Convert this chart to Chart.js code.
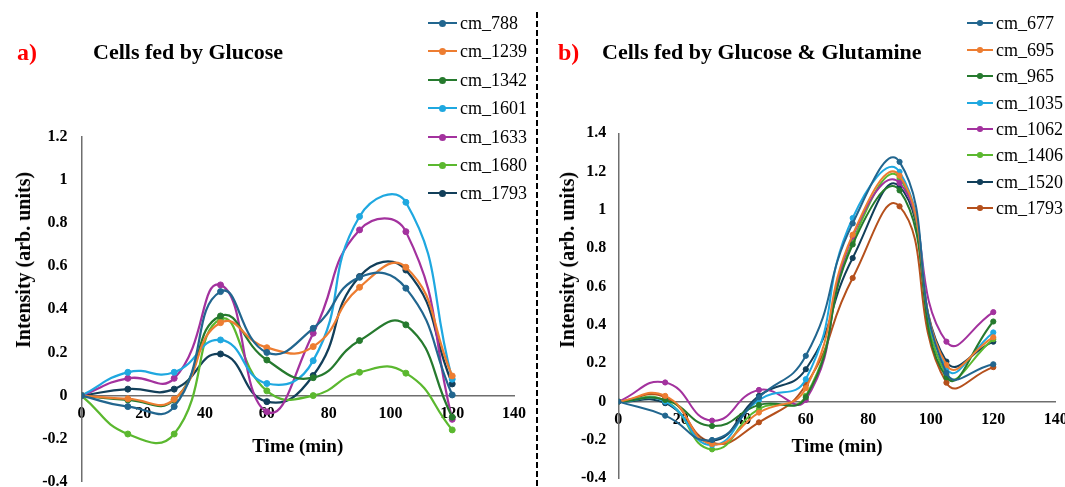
<!DOCTYPE html>
<html>
<head>
<meta charset="utf-8">
<script src="https://cdn.jsdelivr.net/npm/chart.js@4.4.0/dist/chart.umd.min.js"></script>
<style>
  html, body { margin: 0; padding: 0; background: #fff; }
  body { position: relative; width: 1065px; height: 487px; overflow: hidden;
         font-family: "Liberation Serif", "Times New Roman", serif; color: #000; }
  canvas { position: absolute; top: 0; }
  #chartA { left: 0; }
  #chartB { left: 540px; }
  .tag { position: absolute; color: #ff0000; font-weight: bold; font-size: 24px; line-height: 1; }
  .head { position: absolute; font-weight: bold; font-size: 22px; line-height: 1; white-space: nowrap; }
  .ytitle { position: absolute; font-weight: bold; font-size: 20px; line-height: 1; white-space: nowrap;
            transform: translate(-50%, -50%) rotate(-90deg); }
  .lg-row { position: absolute; height: 20px; display: flex; align-items: center; white-space: nowrap;
            font-size: 18px; line-height: 1; }
  .lg-swatch { position: relative; height: 20px; display: inline-block; margin-right: 3px; }
  .lg-swatch i { position: absolute; left: 0; right: 0; top: 9px; }
  .lg-swatch b { position: absolute; top: 10px; left: 50%; border-radius: 50%; }
  #sep { position: absolute; left: 535.5px; top: 12px; width: 2px; height: 480px;
         background: repeating-linear-gradient(to bottom, #000 0 6px, transparent 6px 9px); }
</style>
</head>
<body>
<canvas id="chartA" width="535" height="510"></canvas>
<canvas id="chartB" width="550" height="510"></canvas>
<div id="sep"></div>

<div class="tag" style="left:17px; top:40px;">a)</div>
<div class="head" style="left:93px; top:41px;">Cells fed by Glucose</div>
<div class="tag" style="left:558px; top:40px;">b)</div>
<div class="head" style="left:602px; top:41px;">Cells fed by Glucose &amp; Glutamine</div>
<div class="ytitle" style="left:23px; top:260px;">Intensity (arb. units)</div>
<div class="ytitle" style="left:567px; top:260px;">Intensity (arb. units)</div>
<div id="legendA"></div>
<div id="legendB"></div>

<script>
// Время отбора проб, мин
const timeMin = [0, 15, 30, 45, 60, 75, 90, 105, 120];
const xTickValues = [0, 20, 40, 60, 80, 100, 120, 140];
const yTicksA = [-0.4, -0.2, 0, 0.2, 0.4, 0.6, 0.8, 1, 1.2];
const yTicksB = [-0.4, -0.2, 0, 0.2, 0.4, 0.6, 0.8, 1, 1.2, 1.4];

// a) Cells fed by Glucose
const namesA = ['cm_788', 'cm_1239', 'cm_1342', 'cm_1601', 'cm_1633', 'cm_1680', 'cm_1793'];
const colorsA = ['#22668f', '#ed7d31', '#267a2e', '#1fa8e0', '#a3329e', '#5bb82f', '#123f5a'];
const glc_788  = [0, -0.051, -0.051, 0.482, 0.200, 0.312, 0.548, 0.498, 0.003];
const glc_1239 = [0, -0.015, -0.017, 0.338, 0.222, 0.227, 0.502, 0.595, 0.091];
const glc_1342 = [0, -0.020, -0.020, 0.369, 0.165, 0.083, 0.255, 0.328, -0.100];
const glc_1601 = [0, 0.108, 0.108, 0.258, 0.056, 0.162, 0.830, 0.896, 0.076];
const glc_1633 = [0, 0.080, 0.080, 0.513, -0.075, 0.289, 0.768, 0.760, -0.110];
const glc_1680 = [0, -0.178, -0.178, 0.354, 0.022, 0.000, 0.108, 0.104, -0.159];
const glc_1793 = [0, 0.030, 0.030, 0.193, -0.028, 0.093, 0.552, 0.582, 0.054];
const seriesA = [glc_788, glc_1239, glc_1342, glc_1601, glc_1633, glc_1680, glc_1793];

// b) Cells fed by Glucose & Glutamine
const namesB = ['cm_677', 'cm_695', 'cm_965', 'cm_1035', 'cm_1062', 'cm_1406', 'cm_1520', 'cm_1793'];
const colorsB = ['#22668f', '#ed7d31', '#267a2e', '#1fa8e0', '#a3329e', '#5bb82f', '#123f5a', '#b5501c'];
const gln_677  = [0, -0.073, -0.200, 0.023, 0.239, 0.930, 1.251, 0.150, 0.195];
const gln_695  = [0, 0.030, -0.221, -0.057, 0.070, 0.871, 1.179, 0.192, 0.336];
const gln_965  = [0, 0.009, -0.127, -0.017, 0.023, 0.820, 1.102, 0.127, 0.418];
const gln_1035 = [0, 0.000, -0.226, 0.009, 0.117, 0.958, 1.199, 0.174, 0.361];
const gln_1062 = [0, 0.100, -0.099, 0.061, 0.009, 0.862, 1.141, 0.313, 0.467];
const gln_1406 = [0, 0.005, -0.249, -0.038, 0.030, 0.836, 1.167, 0.140, 0.326];
const gln_1520 = [0, -0.008, -0.204, 0.030, 0.169, 0.749, 1.123, 0.209, 0.313];
const gln_1793 = [0, 0.023, -0.214, -0.108, 0.087, 0.645, 1.019, 0.099, 0.180];
const seriesB = [gln_677, gln_695, gln_965, gln_1035, gln_1062, gln_1406, gln_1520, gln_1793];

const serif = '"Liberation Serif", "Times New Roman", serif';
const axisColor = '#6e6e6e';

// Построение одного графика
function makeChart(id, names, series, colors, yTicks, box) {
    const ctx = document.getElementById(id).getContext('2d');

    return new Chart(ctx, {
        type: 'line',
        data: {
            datasets: series.map((vals, i) => ({
                label: names[i],
                data: vals.map((v, j) => ({ x: timeMin[j], y: v })),
                borderColor: colors[i],
                backgroundColor: colors[i],
                borderWidth: box.lineW,
                pointRadius: box.dot,
                pointHoverRadius: box.dot,
                pointBorderWidth: 1,
                tension: 0.5,
                fill: false
            }))
        },
        options: {
            responsive: false,
            animation: false,
            layout: { padding: box.pad },
            plugins: {
                legend: { display: false },
                tooltip: { enabled: false }
            },
            scales: {
                x: {
                    type: 'linear',
                    min: 0,
                    max: 140,
                    position: { y: 0 },
                    grid: { display: false, drawTicks: false },
                    border: { display: true, color: axisColor, width: 1.5 },
                    afterBuildTicks: s => { s.ticks = xTickValues.map(v => ({ value: v })); },
                    afterFit: s => { s.height = box.xH; },
                    ticks: {
                        color: '#000',
                        padding: 9,
                        maxRotation: 0,
                        autoSkip: false,
                        font: { family: serif, size: 16, weight: 'bold' }
                    },
                    title: {
                        display: true,
                        text: 'Time (min)',
                        color: '#000',
                        padding: 0,
                        font: { family: serif, size: 19, weight: 'bold' }
                    }
                },
                y: {
                    type: 'linear',
                    position: 'left',
                    min: yTicks[0],
                    max: yTicks[yTicks.length - 1],
                    grid: { display: false, drawTicks: false },
                    border: { display: true, color: axisColor, width: 1.5 },
                    afterBuildTicks: s => { s.ticks = yTicks.map(v => ({ value: v })); },
                    afterFit: s => { s.width = box.yW; },
                    ticks: {
                        color: '#000',
                        padding: box.yPad,
                        font: { family: serif, size: 16, weight: 'bold' },
                        callback: v => String(Math.round(v * 10) / 10)
                    }
                }
            }
        }
    });
}

// Легенда в стиле Excel: линия с точкой
function buildLegend(chart, holderId, spec) {
    const holder = document.getElementById(holderId);
    const items = Chart.defaults.plugins.legend.labels.generateLabels(chart);
    items.forEach((it, i) => {
        const row = document.createElement('div');
        row.className = 'lg-row';
        row.style.left = spec.x + 'px';
        row.style.top = Math.round(spec.y0 + i * spec.step - 10) + 'px';

        const sw = document.createElement('span');
        sw.className = 'lg-swatch';
        sw.style.width = spec.len + 'px';
        const line = document.createElement('i');
        line.style.height = spec.lineW + 'px';
        line.style.background = it.strokeStyle;
        const dot = document.createElement('b');
        dot.style.width = dot.style.height = (spec.r * 2) + 'px';
        dot.style.marginLeft = dot.style.marginTop = (-spec.r) + 'px';
        dot.style.background = it.fillStyle;
        sw.appendChild(line);
        sw.appendChild(dot);

        const txt = document.createElement('span');
        txt.textContent = it.text;
        row.appendChild(sw);
        row.appendChild(txt);
        holder.appendChild(row);
    });
}

const chartA = makeChart('chartA', namesA, seriesA, colorsA, yTicksA, {
    pad: { left: 0, top: 136.7, right: 17.5, bottom: 28.1 },
    yW: 81.5, yPad: 14, xH: 62.7, lineW: 2.25, dot: 3
});
const chartB = makeChart('chartB', namesB, seriesB, colorsB, yTicksB, {
    pad: { left: 0, top: 133.3, right: 34.2, bottom: 31.7 },
    yW: 78.3, yPad: 12, xH: 56.7, lineW: 2, dot: 2.6
});

buildLegend(chartA, 'legendA', { x: 428, y0: 22.7, step: 28.45, len: 29, lineW: 2, r: 3.5 });
buildLegend(chartB, 'legendB', { x: 967, y0: 23.4, step: 26.4, len: 26, lineW: 2, r: 2.8 });
</script>
</body>
</html>
